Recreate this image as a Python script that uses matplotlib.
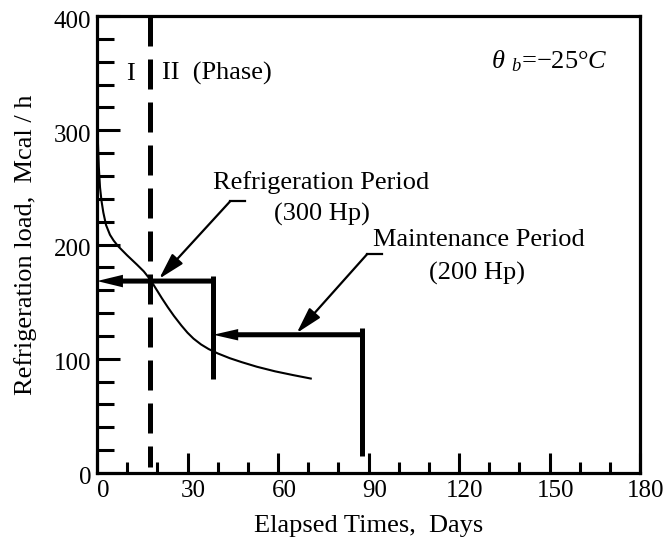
import matplotlib
matplotlib.use("Agg")
import matplotlib.pyplot as plt
from matplotlib.ticker import MultipleLocator, FixedLocator
from matplotlib.patches import FancyArrow
import matplotlib.transforms as mtransforms

plt.rcParams['font.family'] = ['Liberation Serif', 'DejaVu Serif']
plt.rcParams['mathtext.fontset'] = 'custom'
plt.rcParams['mathtext.rm'] = 'Liberation Serif'
plt.rcParams['mathtext.it'] = 'Liberation Serif:italic'

# ---- data ----
curve_days = [0, 0.3, 0.6, 1.0, 1.5, 2.1, 3.0, 4.3, 5.5, 7.0, 10.0, 13.2, 15.5,
              17.6, 19.5, 21.5, 23.5, 25.5, 28.0, 30.0, 32.0, 34.5, 37.0, 40.0,
              44.0, 48.0, 53.0, 59.0, 65.0, 71.2]
curve_load = [320, 290, 268, 250, 238, 228, 217, 208.5, 203.5, 198.5, 190.5, 182.5,
              176.5, 169.5, 161.5, 153, 145, 137.5, 129, 122.8, 117.6, 112.5,
              108.5, 104.7, 100.5, 97, 93, 89, 85.7, 82.5]

phase_boundary = 17.6
refrig_period = [0, 38.5]       # days
refrig_load = 168               # Mcal/h
refrig_bar = [82, 172]          # vertical marker extent
maint_period = [38.5, 88]
maint_load = 121
maint_bar = [15, 127]

refrig_note_tip = (20.6, 170)
refrig_note_corner = [(44.1, 237.7), (49.1, 237.7)]
maint_note_tip = (66.2, 122.5)
maint_note_corner = [(89.6, 191.7), (94.4, 191.7)]

x_ticks = [0, 30, 60, 90, 120, 150, 180]
y_ticks = [0, 100, 200, 300, 400]

fig = plt.figure(figsize=(6.69, 5.37), dpi=100)
ax = fig.add_axes([97/669, 1-473/537, 543/669, 457/537])
ax.set_xlim(0, 180)
ax.set_ylim(0, 400)

for s in ax.spines.values():
    s.set_linewidth(2.3)

ax.xaxis.set_major_locator(FixedLocator(x_ticks))
ax.yaxis.set_major_locator(FixedLocator(y_ticks))
ax.xaxis.set_minor_locator(MultipleLocator(10))
ax.yaxis.set_minor_locator(MultipleLocator(20))
ax.set_xticklabels([str(v) for v in x_ticks])
ax.set_yticklabels([str(v) for v in y_ticks])
ax.tick_params(axis='x', which='major', direction='in', length=14.4, width=2.2,
               labelsize=18, pad=5, top=False)
ax.tick_params(axis='x', which='minor', direction='in', length=8, width=2.2, top=False)
ax.tick_params(axis='y', which='major', direction='in', length=16.5, width=2.2,
               labelsize=18, pad=4, right=False)
ax.tick_params(axis='y', which='minor', direction='in', length=12, width=2.2, right=False)

offx = mtransforms.ScaledTranslation(0.06, 0, fig.dpi_scale_trans)
for lab in ax.get_xticklabels():
    lab.set_transform(lab.get_transform() + offx)
offy = mtransforms.ScaledTranslation(0, -0.03, fig.dpi_scale_trans)
for lab in ax.get_yticklabels():
    lab.set_transform(lab.get_transform() + offy)

# curve
ax.plot(curve_days, curve_load, color='k', lw=1.5, solid_capstyle='butt',
        solid_joinstyle='round')

# phase boundary (dashed)
ax.plot([phase_boundary, phase_boundary], [400, 5], color='k', lw=3.6,
        linestyle=(0, (6, 2.6)))

# refrigeration period thick arrow
ax.add_patch(FancyArrow(refrig_period[1], refrig_load,
                        refrig_period[0]-refrig_period[1], 0,
                        width=4.4, head_width=11, head_length=8.6,
                        length_includes_head=True, color='k', lw=0))
ax.plot([refrig_period[1]]*2, refrig_bar, color='k', lw=3.6, solid_capstyle='butt')

# maintenance period thick arrow
ax.add_patch(FancyArrow(maint_period[1], maint_load,
                        maint_period[0]-maint_period[1], 0,
                        width=4.4, head_width=10, head_length=8.3,
                        length_includes_head=True, color='k', lw=0))
ax.plot([maint_period[1]]*2, maint_bar, color='k', lw=3.6, solid_capstyle='butt')

# annotation arrows
for tip, corner in [(refrig_note_tip, refrig_note_corner),
                    (maint_note_tip, maint_note_corner)]:
    ax.plot([c[0] for c in corner], [c[1] for c in corner], color='k', lw=1.6)
    ax.annotate('', xy=tip, xytext=corner[0],
                arrowprops=dict(arrowstyle='-|>,head_length=0.8,head_width=0.22',
                                mutation_scale=20, color='k', lw=1.6,
                                shrinkA=0, shrinkB=0))

# texts
fs = 19
ax.text(74.2, 248.9, 'Refrigeration Period', fontsize=fs, ha='center', va='baseline')
ax.text(74.5, 220.8, '(300 Hp)', fontsize=fs, ha='center', va='baseline')
ax.text(126.6, 199, 'Maintenance Period', fontsize=fs, ha='center', va='baseline')
ax.text(126.0, 169.7, '(200 Hp)', fontsize=fs, ha='center', va='baseline')
ax.text(11.0, 344, 'I', fontsize=fs, ha='center', va='baseline')
ax.text(21.5, 344, 'II  (Phase)', fontsize=fs, ha='left', va='baseline')
ax.text(130.6, 353.8, r'$\theta_{\;\;b}$=−25°$C$', fontsize=fs, ha='left', va='baseline')

ax.set_xlabel('Elapsed Times,  Days', fontsize=19)
ax.xaxis.set_label_coords(0.5, -0.092)
ax.set_ylabel('Refrigeration load,  Mcal / h', fontsize=19)
ax.yaxis.set_label_coords(-0.1105, 0.5)

fig.savefig('out.png', dpi=100)
